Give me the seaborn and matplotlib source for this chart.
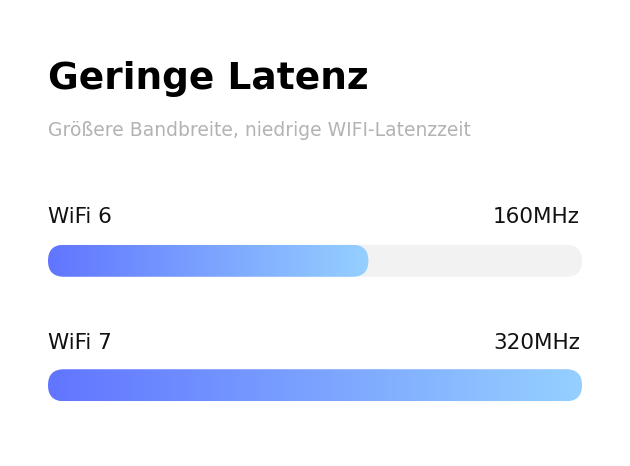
"""Geringe Latenz: WiFi 6 vs WiFi 7 channel width as rounded gradient bars."""
import matplotlib
matplotlib.use("Agg")
import matplotlib.pyplot as plt
import numpy as np
import pandas as pd
import seaborn as sns
from matplotlib.colors import LinearSegmentedColormap
from matplotlib.patches import FancyBboxPatch

TITLE = "Geringe Latenz"
SUBTITLE = "Größere Bandbreite, niedrige WIFI-Latenzzeit"
standards = ["WiFi 6", "WiFi 7"]
value_labels = ["160MHz", "320MHz"]
fill_pct = [60, 100]          # share of the track that is filled
track_pct = [100, 100]

W, H = 630, 466
BAR_H = 0.257
grad = LinearSegmentedColormap.from_list("wifi", ["#6175ff", "#95d0ff"])

sns.set_theme(style="white")
plt.rcParams["font.family"] = ["DejaVu Sans"]

fig = plt.figure(figsize=(W / 100, H / 100), dpi=100)
fig.patch.set_facecolor("white")

# axes spans the bar track horizontally, rows 124.5 px apart
ax = fig.add_axes([48 / W, 1 - 447.5 / H, 534 / W, 249 / H])
df = pd.DataFrame({"standard": standards, "fill": fill_pct, "track": track_pct})
sns.barplot(data=df, x="track", y="standard", color="#f2f2f2", width=BAR_H, ax=ax)
sns.barplot(data=df, x="fill", y="standard", color="#6175ff", width=BAR_H, ax=ax)
ax.set_xlim(0, 100)
ax.set_ylim(1.5, -0.5)
ax.axis("off")

# data units per pixel -> aspect for round corners
aspect = (2 / 249) / (100 / 534)

patches = list(ax.patches)
n = len(standards)
for i, p in enumerate(patches):
    x0, y0, w, h = p.get_x(), p.get_y(), p.get_width(), p.get_height()
    p.set_visible(False)
    rounding = (h / aspect) / 2
    box = FancyBboxPatch((x0, y0), w, h,
                         boxstyle=f"round,pad=0,rounding_size={rounding}",
                         mutation_aspect=aspect, linewidth=0,
                         facecolor="#f2f2f2" if i < n else "none", zorder=2)
    ax.add_patch(box)
    if i >= n:
        img = ax.imshow(np.linspace(0, 1, 256).reshape(1, -1), cmap=grad,
                        extent=[x0, x0 + w, y0 + h, y0], aspect="auto",
                        interpolation="bilinear", zorder=3)
        img.set_clip_path(box)
ax.set_xlim(0, 100)
ax.set_ylim(1.5, -0.5)

fig.text(48 / W, 1 - 89 / H, TITLE, fontsize=27, fontweight="bold",
         color="black", va="baseline")
fig.text(48 / W, 1 - 136 / H, SUBTITLE, fontsize=13.5, color="#b3b3b3",
         va="baseline")

for i, (name, val) in enumerate(zip(standards, value_labels)):
    base = 223 + i * 126
    fig.text(48 / W, 1 - base / H, name, fontsize=15.5, color="#111111",
             va="baseline")
    fig.text(580 / W, 1 - base / H, val, fontsize=15.5, color="#111111",
             va="baseline", ha="right")

fig.savefig("out.png", dpi=100, facecolor="white")
